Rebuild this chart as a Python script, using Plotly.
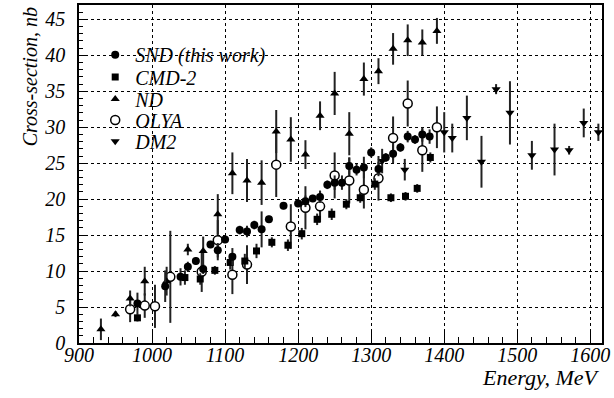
import plotly.graph_objects as go

# ---------------- data ----------------
snd_e = [980, 1018, 1039, 1049, 1060, 1070, 1080, 1090, 1100, 1110, 1120, 1130, 1140, 1150,
         1160, 1180, 1200, 1210, 1220, 1230, 1240, 1250, 1260, 1270, 1280, 1290, 1300, 1310,
         1320, 1330, 1340, 1350, 1360, 1370, 1380]
snd_s = [5.5, 7.9, 9.2, 10.6, 11.4, 10.3, 13.7, 12.9, 14.4, 12.0, 15.7, 15.5, 16.4, 15.8,
         17.2, 19.1, 19.4, 19.7, 20.1, 20.3, 22.0, 22.3, 22.3, 24.6, 24.1, 24.4, 26.5, 24.2,
         25.8, 26.3, 27.2, 28.7, 28.3, 29.0, 28.7]
snd_err = [1.5, 2.2, 1.2, 0.7, 0.5, 0.7, 0.5, 1.0, 0.5, 1.2, 0.6, 0.8, 0.6, 2.5,
           0.5, 0.5, 0.5, 0.8, 0.5, 0.8, 0.6, 1.0, 1.0, 1.2, 0.8, 1.5, 0.7, 1.0,
           0.6, 1.3, 0.6, 0.8, 0.6, 1.0, 1.0]

cmd_e = [980, 1045, 1066, 1086, 1107, 1127, 1143, 1164, 1186, 1205, 1226, 1246, 1266, 1285,
         1305, 1327, 1347, 1363, 1381]
cmd_s = [3.5, 9.1, 8.9, 10.1, 11.2, 11.4, 12.8, 14.0, 13.6, 15.2, 17.2, 17.9, 19.3, 20.2,
         22.1, 20.2, 20.4, 21.5, 25.8]
cmd_err = [0.5, 1.0, 0.8, 0.6, 1.0, 1.0, 1.0, 0.7, 0.8, 0.8, 0.8, 0.8, 0.7, 0.7,
           0.8, 0.6, 0.6, 0.6, 0.7]

nd_e = [930, 950, 970, 990, 1020, 1049, 1070, 1090, 1110, 1130, 1150, 1170, 1190, 1210,
        1230, 1250, 1270, 1290, 1310, 1330, 1350, 1370, 1390]
nd_s = [1.9, 4.0, 6.2, 8.6, 8.6, 13.0, 12.8, 17.9, 23.6, 22.6, 22.3, 29.4, 28.3, 26.2,
        31.6, 34.7, 29.1, 36.7, 37.8, 40.9, 42.1, 41.8, 43.4]
nd_err = [1.5, 0.4, 1.1, 2.0, 2.0, 0.8, 2.0, 2.8, 2.9, 3.0, 3.1, 3.0, 3.1, 2.0,
          2.0, 3.0, 3.0, 2.3, 1.8, 2.2, 2.2, 1.8, 1.8]

olya_e = [970, 990, 1004, 1025, 1068, 1090, 1110, 1130, 1170, 1190, 1210, 1230, 1250, 1270,
          1290, 1310, 1330, 1350, 1370, 1390]
olya_s = [4.7, 5.2, 5.1, 9.2, 9.9, 14.3, 9.5, 10.9, 24.8, 16.2, 18.8, 19.0, 23.3, 22.6,
          21.3, 22.9, 28.5, 33.3, 26.8, 30.0]
olya_err = [1.8, 1.7, 3.0, 6.4, 2.8, 2.8, 2.7, 2.7, 4.5, 3.1, 3.0, 2.2, 3.2, 3.2,
            2.6, 3.1, 3.0, 3.2, 3.0, 2.9]

dm2_e = [1315, 1346, 1400, 1411, 1431, 1451, 1471, 1490, 1520, 1551, 1571, 1591, 1611]
dm2_s = [25.3, 24.1, 29.3, 28.5, 31.3, 25.2, 35.3, 32.0, 26.1, 26.9, 26.8, 30.6, 29.3]
dm2_err = [1.7, 1.5, 2.8, 2.0, 3.1, 3.6, 0.7, 4.4, 2.0, 3.6, 0.6, 2.0, 1.2]

x_ticks = [900, 1000, 1100, 1200, 1300, 1400, 1500, 1600]
y_ticks = [0, 5, 10, 15, 20, 25, 30, 35, 40, 45]

names = ["SND (this work)", "CMD-2", "ND", "OLYA", "DM2"]
legend_y = [0.853, 0.787, 0.722, 0.660, 0.597]

FONT = '"Liberation Serif", "Times New Roman", Times, serif'
BAR = "#222222"

fig = go.Figure()

def add(e, s, err, name, leg, marker):
    fig.add_trace(go.Scatter(
        x=e, y=s, mode="markers", name=name, legend=leg,
        marker=marker,
        error_y=dict(type="data", array=err, visible=True, width=0, thickness=2, color=BAR),
    ))

add(dm2_e, dm2_s, dm2_err, names[4], "legend5",
    dict(symbol="triangle-down", size=8, color="black"))
add(olya_e, olya_s, olya_err, names[3], "legend4",
    dict(symbol="circle", size=9, color="white", line=dict(color="black", width=1.5)))
add(nd_e, nd_s, nd_err, names[2], "legend3",
    dict(symbol="triangle-up", size=8, color="black"))
add(cmd_e, cmd_s, cmd_err, names[1], "legend2",
    dict(symbol="square", size=7, color="black"))
add(snd_e, snd_s, snd_err, names[0], "legend",
    dict(symbol="circle", size=8, color="black"))

leg_common = dict(x=0.031, xanchor="left", yanchor="middle", bgcolor="rgba(0,0,0,0)",
                  borderwidth=0, font=dict(family=FONT, size=20, style="italic", color="black"))
legends = {}
for i, key in enumerate(["legend", "legend2", "legend3", "legend4", "legend5"]):
    legends[key] = dict(y=legend_y[i], **leg_common)

fig.update_layout(
    width=614, height=398,
    margin=dict(l=79, r=12, t=3, b=55),
    paper_bgcolor="white", plot_bgcolor="white",
    font=dict(family=FONT, size=20, style="italic", color="black"),
    showlegend=True,
    **legends,
)

fig.update_xaxes(
    range=[900, 1616],
    tickmode="array", tickvals=x_ticks, ticktext=[f"<i>{v}</i>" for v in x_ticks],
    showline=True, linecolor="black", linewidth=1.5, mirror=True,
    ticks="inside", ticklen=12, tickwidth=1, tickcolor="black",
    showgrid=True, gridcolor="black", griddash="dot", gridwidth=1,
    zeroline=False,
    minor=dict(tickmode="linear", tick0=900, dtick=20, ticks="inside", ticklen=6,
               tickcolor="black", showgrid=False),
    tickfont=dict(family=FONT, size=20, style="italic"),
    ticklabelstandoff=-7,
)
fig.update_yaxes(
    range=[0, 47],
    tickmode="array", tickvals=y_ticks, ticktext=[f"<i>{v}</i>" for v in y_ticks],
    showline=True, linecolor="black", linewidth=1.5, mirror=True,
    ticks="inside", ticklen=7, tickwidth=1, tickcolor="black",
    showgrid=True, gridcolor="black", griddash="dot", gridwidth=1,
    zeroline=False,
    minor=dict(tickmode="linear", tick0=0, dtick=1, ticks="inside", ticklen=4,
               tickcolor="black", showgrid=False),
    tickfont=dict(family=FONT, size=20, style="italic"),
    ticklabelstandoff=8,
)

fig.add_annotation(text="Energy, MeV", xref="paper", yref="paper", x=1.0, y=-0.058,
                   xanchor="right", yanchor="top", showarrow=False,
                   font=dict(family=FONT, size=22, style="italic"))
fig.add_annotation(text="Cross-section, nb", xref="paper", yref="paper", x=-0.094, y=1.0,
                   xanchor="center", yanchor="top", textangle=-90, showarrow=False,
                   font=dict(family=FONT, size=20, style="italic"))

fig.write_html("out.html", config={"displayModeBar": False},
               post_script="document.body.style.margin='0';document.body.style.padding='0';")
